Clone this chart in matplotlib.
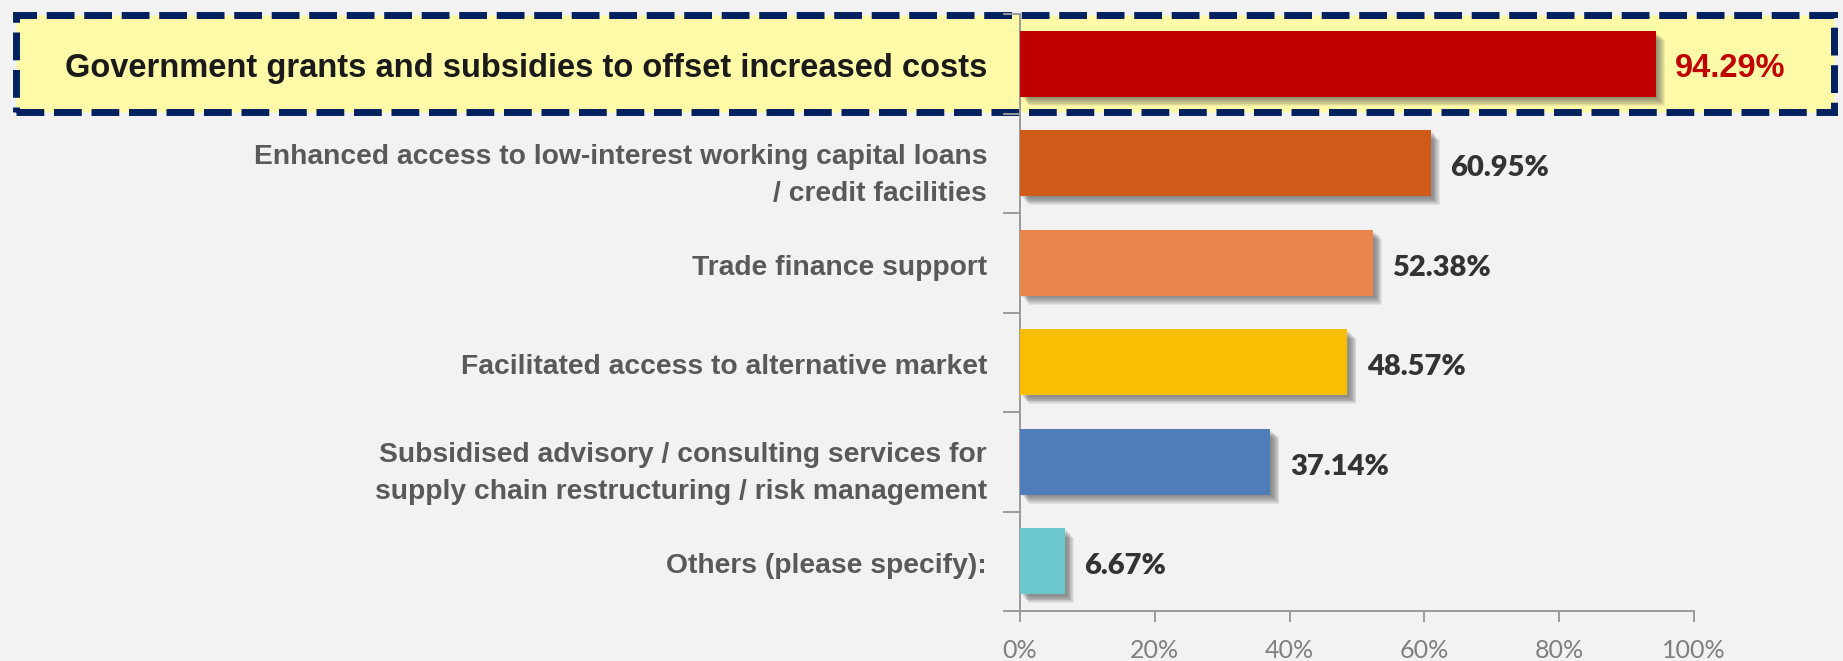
import numpy as np
import matplotlib.pyplot as plt
from matplotlib.patches import Rectangle
import matplotlib.transforms as mtransforms

categories = [
    "Government grants and subsidies to offset increased costs",
    "Enhanced access to low-interest working capital loans\n/ credit facilities",
    "Trade finance support",
    "Facilitated access to alternative market",
    "Subsidised advisory / consulting services for\nsupply chain restructuring / risk management",
    "Others (please specify):",
]
values = [94.29, 60.95, 52.38, 48.57, 37.14, 6.67]
colors = ["#C00000", "#D05A17", "#EA864C", "#F9BE00", "#4F7DB8", "#6CC9CE"]
xticks = [0, 20, 40, 60, 80, 100]
xtick_labels = ["0%", "20%", "40%", "60%", "80%", "100%"]

label_font = "Liberation Sans"
num_font = "Lato"

W, H = 1843, 661
fig = plt.figure(figsize=(W / 100, H / 100), dpi=100, facecolor="#F2F2F2")
ax = fig.add_axes([1020 / W, (H - 611) / H, (1694 - 1020) / W, (611 - 14) / H])
ax.set_facecolor("none")

# highlight box around the first row
box = Rectangle((16 / W, (H - 112) / H), (1834 - 16) / W, (112 - 15) / H,
                transform=fig.transFigure, facecolor="#FFFAA8", edgecolor="#002060",
                linewidth=5.0, linestyle=(0, (4.0, 1.4)), zorder=-1)
fig.patches.append(box)

y = np.arange(len(categories))
bh = 0.66

# soft shadow
for k in range(1, 10):
    tr = mtransforms.offset_copy(ax.transData, fig=fig, x=1 + k * 0.9, y=-(1 + k * 0.9), units="dots")
    ax.barh(y, values, height=bh, color="#4A4A4A", alpha=0.09, transform=tr, zorder=1)

ax.barh(y, values, height=bh, color=colors, zorder=3)

ax.set_xlim(0, 100)
ax.set_ylim(len(categories) - 0.5, -0.5)

for s in ["top", "right"]:
    ax.spines[s].set_visible(False)
for s in ["left", "bottom"]:
    ax.spines[s].set_color("#9A9A9A")
    ax.spines[s].set_linewidth(1.4)

ax.set_xticks(xticks)
ax.set_xticklabels(xtick_labels, fontfamily=num_font, fontsize=18, color="#7F7F7F")
ax.tick_params(axis="x", direction="out", length=8, width=1.4, color="#9A9A9A", pad=12)
ax.set_yticks(np.arange(len(categories) + 1) - 0.5)
ax.set_yticklabels([])
ax.tick_params(axis="y", direction="out", length=12, width=1.4, color="#9A9A9A")

val_tr = mtransforms.offset_copy(ax.transData, fig=fig, x=0, y=-5, units="dots")
for i, (cat, v) in enumerate(zip(categories, values)):
    dy = -12 if "\n" in cat else -5
    label_tr = mtransforms.offset_copy(ax.transData, fig=fig, x=-33, y=dy, units="dots")
    if i == 0:
        ax.text(0, i, cat, transform=label_tr, ha="right", va="center",
                fontfamily=label_font, fontweight="bold", fontsize=23.5, color="#1A1A1A")
        ax.text(v + 2.8, i, f"{v:.2f}%", transform=val_tr, ha="left", va="center",
                fontfamily=label_font, fontweight="bold", fontsize=23.5, color="#C00000")
    else:
        ax.text(0, i, cat, transform=label_tr, ha="right", va="center",
                fontfamily=label_font, fontweight="bold", fontsize=20.3, color="#595959",
                multialignment="right", linespacing=1.55)
        ax.text(v + 2.9, i, f"{v:.2f}%", transform=val_tr, ha="left", va="center",
                fontfamily=num_font, fontweight="heavy", fontsize=21, color="#333333")

fig.savefig("out.png", dpi=100, facecolor=fig.get_facecolor())
